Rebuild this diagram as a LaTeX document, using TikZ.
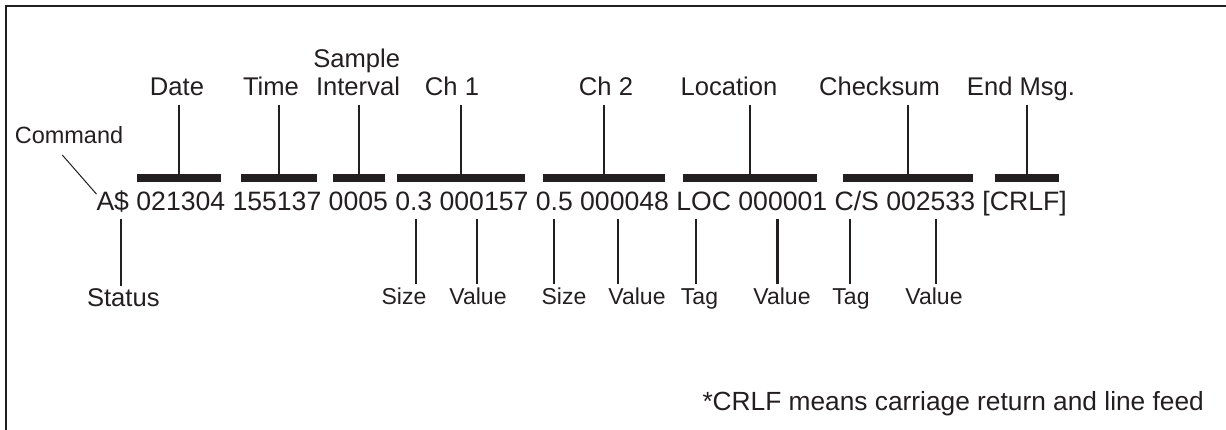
\documentclass[tikz,border=0pt]{standalone}
\usepackage{fontspec}
\setmainfont{Liberation Sans}
\definecolor{ink}{RGB}{35,31,32}
\begin{document}
\begin{tikzpicture}[x=1pt,y=-1pt,
  every node/.style={inner sep=0pt,outer sep=0pt,text=ink},
  tok/.style={anchor=base west,font=\fontsize{26.6}{30}\selectfont,text depth=0pt},
  toplbl/.style={anchor=base,font=\fontsize{25.6}{30}\selectfont,text depth=0pt},
  botlbl/.style={anchor=base,font=\fontsize{23}{28}\selectfont},
  bar/.style={fill=ink,minimum height=7.3pt},
  conn/.style={draw=ink,line width=2.2pt},
  thinconn/.style={draw=ink,line width=1pt}]
\useasboundingbox (0,0) rectangle (1226,429);
% frame
\draw[ink,line width=2.2pt] (6,440) -- (6,6) -- (1240,6);
% message tokens
\node[tok] (tAS) at (96.5,210) {A\$};
\node[tok] (tDate) at ([xshift=7.39pt]tAS.base east) {021304};
\node[tok] (tTime) at ([xshift=7.39pt]tDate.base east) {155137};
\node[tok] (tInt) at ([xshift=7.39pt]tTime.base east) {0005};
\node[tok] (tSz1) at ([xshift=7.39pt]tInt.base east) {0.3};
\node[tok] (tVal1) at ([xshift=7.39pt]tSz1.base east) {000157};
\node[tok] (tSz2) at ([xshift=7.39pt]tVal1.base east) {0.5};
\node[tok] (tVal2) at ([xshift=7.39pt]tSz2.base east) {000048};
\node[tok] (tLoc) at ([xshift=7.39pt]tVal2.base east) {LOC};
\node[tok] (tVal3) at ([xshift=7.39pt]tLoc.base east) {000001};
\node[tok] (tCS) at ([xshift=7.39pt]tVal3.base east) {C/S};
\node[tok] (tVal4) at ([xshift=7.39pt]tCS.base east) {002533};
\node[tok] (tEnd) at ([xshift=7.39pt]tVal4.base east) {[CRLF]};
% bars
\node[bar,minimum width=84pt] (bDate) at (178.7,178) {};
\node[bar,minimum width=76pt] (bTime) at (278.7,178) {};
\node[bar,minimum width=52pt] (bInt) at (359,178) {};
\node[bar,minimum width=127.7pt] (bCh1) at (461.2,178) {};
\node[bar,minimum width=121.7pt] (bCh2) at (604.2,178) {};
\node[bar,minimum width=133.4pt] (bLoc) at (750,178) {};
\node[bar,minimum width=129.4pt] (bCS) at (908,178) {};
\node[bar,minimum width=64pt] (bEnd) at (1027,178) {};
% top labels
\node[toplbl] (lDate) at (177,95) {Date};
\node[toplbl] (lTime) at (271,95) {Time};
\node[toplbl] (lSample) at (356.7,67) {Sample};
\node[toplbl] (lInt) at (358,95) {Interval};
\node[toplbl] (lCh1) at (452,95) {Ch 1};
\node[toplbl] (lCh2) at (606,95) {Ch 2};
\node[toplbl] (lLoc) at (729,95) {Location};
\node[toplbl] (lCS) at (879.5,95) {Checksum};
\node[toplbl] (lEnd) at (1021,95) {End Msg.};
% top connectors
\foreach \b/\l in {bDate/lDate,bTime/lTime,bInt/lInt,bCh1/lCh1,bCh2/lCh2,bLoc/lLoc,bCS/lCS,bEnd/lEnd}
  \draw[conn] (\b.north) -- ([yshift=-9.5pt]\b.north |- \l.base);
% bottom labels
\node[toplbl] (lStatus) at (123.3,306.5) {Status};
\node[botlbl] (lSz1) at (404,304.5) {Size};
\node[botlbl] (lVal1) at (478,304.5) {Value};
\node[botlbl] (lSz2) at (564,304.5) {Size};
\node[botlbl] (lVal2) at (637,304.5) {Value};
\node[botlbl] (lTag1) at (699.5,304.5) {Tag};
\node[botlbl] (lVal3) at (782,304.5) {Value};
\node[botlbl] (lTag2) at (851,304.5) {Tag};
\node[botlbl] (lVal4) at (934,304.5) {Value};
% bottom connectors
\foreach \t/\dx/\l in {tAS/7.9/lStatus,tSz1/2/lSz1,tVal1/-6.7/lVal1,tSz2/0/lSz2,tVal2/-6.2/lVal2,tLoc/-7.5/lTag1,tVal3/-5.4/lVal3,tCS/-6.6/lTag2,tVal4/5.1/lVal4}
  \draw[conn] ([xshift=\dx pt,yshift=-9.3pt]\t.south) -- ([xshift=\dx pt,yshift=20.5pt]\t.south |- \l.base);
% command
\node[anchor=base,font=\fontsize{23.5}{28}\selectfont] (lCmd) at (69,143.3) {Command};
\draw[thinconn] ([shift={(-6.7pt,-11.7pt)}]lCmd.base) -- ([yshift=-3.8pt]tAS.north west);
% footnote
\node[anchor=base west,font=\fontsize{26.3}{30}\selectfont] (note) at (702.5,410) {*CRLF means carriage return and line feed};
\end{tikzpicture}
\end{document}
